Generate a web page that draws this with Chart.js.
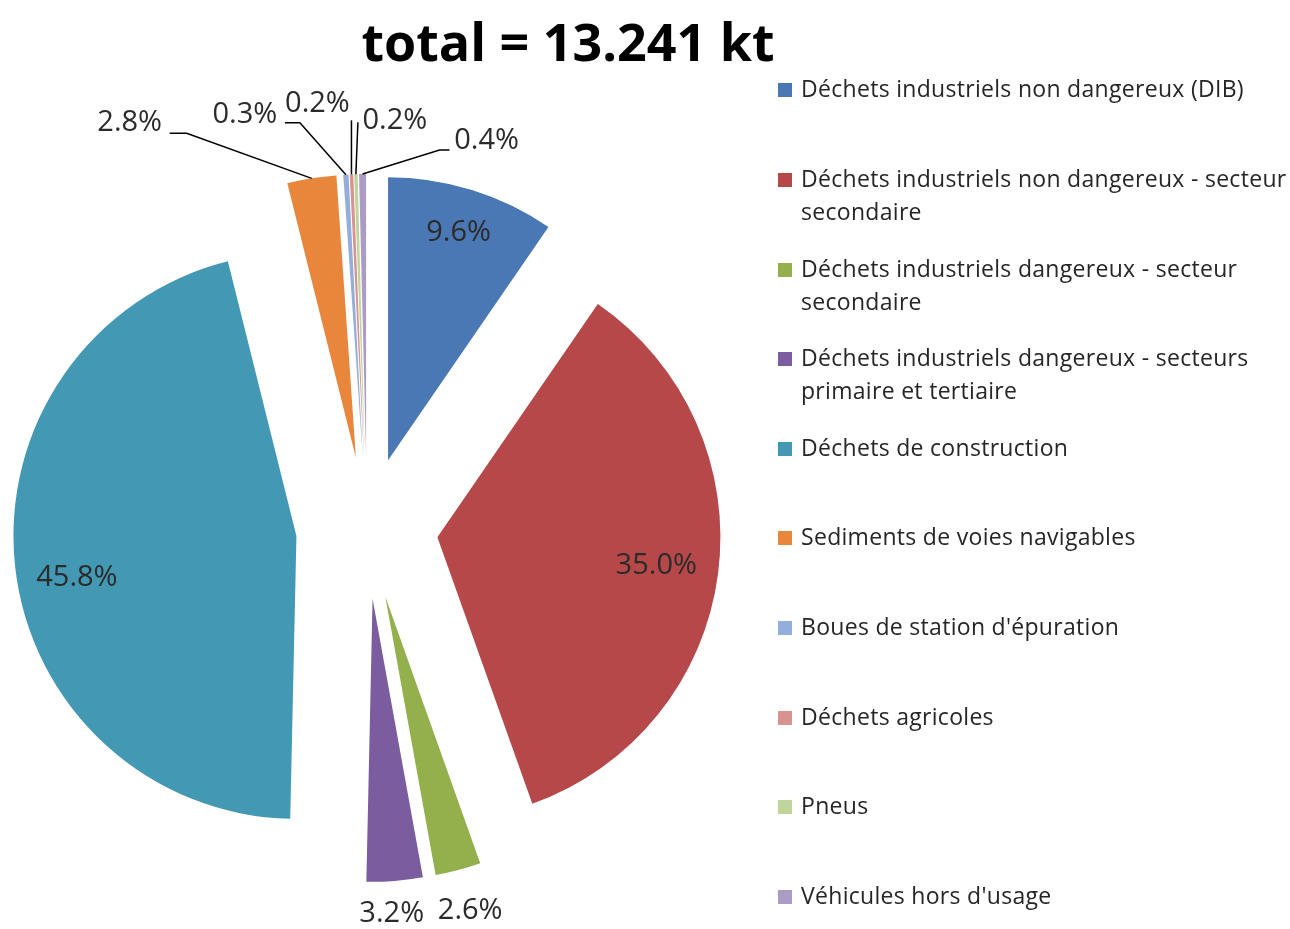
<!DOCTYPE html>
<html>
<head>
<meta charset="utf-8">
<script src="https://cdn.jsdelivr.net/npm/chart.js@4.4.1/dist/chart.umd.min.js"></script>
<style>
  html, body { margin: 0; padding: 0; background: #fff; }
  #page { position: relative; width: 1290px; height: 929px; overflow: hidden; font-family: "Open Sans", sans-serif; }
  #chart { position: absolute; left: 0; top: 0; }
  #title { position: absolute; left: 0; top: 15px; width: 1136px; text-align: center;
           font-weight: 700; font-size: 52px; line-height: 52px; color: #000; }
  #legend .item { position: absolute; left: 778px; font-size: 23px; line-height: 33px;
                  letter-spacing: 0.3px; color: #262626; white-space: nowrap; }
  #legend .box { position: absolute; left: 0; top: 11px; width: 14px; height: 14px; }
  #legend .txt { margin-left: 23px; }
</style>
</head>
<body>
<div id="page">
  <canvas id="chart" width="1290" height="929"></canvas>
  <div id="title"></div>
  <div id="legend"></div>
</div>
<script>
const totalKt = '13.241';

const categories = [
  'Déchets industriels non dangereux (DIB)',
  ['Déchets industriels non dangereux - secteur', 'secondaire'],
  ['Déchets industriels dangereux - secteur', 'secondaire'],
  ['Déchets industriels dangereux - secteurs', 'primaire et tertiaire'],
  'Déchets de construction',
  'Sediments de voies navigables',
  "Boues de station d'épuration",
  'Déchets agricoles',
  'Pneus',
  "Véhicules hors d'usage"
];

// share of the total, in %
const shares = [9.6, 35.0, 2.6, 3.2, 45.8, 2.8, 0.3, 0.2, 0.2, 0.4];

const colors = [
  '#4a78b5', '#b6484a', '#93b04c', '#7a5c9f', '#4399b3',
  '#e8863b', '#94aedb', '#d89391', '#bfd59b', '#ab9cc6'
];

// how far every slice is pulled out of the centre (px)
const EXPLODE = 71;

// the built-in arc offset also grows small slices, so pull them out
// with a plain translation instead and keep every radius the same
class ExplodedArc extends Chart.ArcElement {
  draw(ctx) {
    const mid = (this.startAngle + this.endAngle) / 2;
    ctx.save();
    ctx.translate(Math.cos(mid) * EXPLODE, Math.sin(mid) * EXPLODE);
    super.draw(ctx);
    ctx.restore();
  }
}
ExplodedArc.id = 'explodedArc';

class ExplodedPie extends Chart.PieController {}
ExplodedPie.id = 'explodedPie';
ExplodedPie.defaults = { dataElementType: 'explodedArc' };

Chart.register(ExplodedArc, ExplodedPie);

// where each percentage goes: inside at a fraction of the radius (turned a few degrees),
// or outside (text offset from the slice edge) with an optional leader line
const labelPlacement = [
  { inside: 0.84 },
  { inside: 0.78 },
  { text: [12, 41] },
  { text: [-3, 33] },
  { inside: 0.79, turn: -4.5 },
  { text: [-182, -56], end: [40, 11], elbow: 17 },
  { text: [-101, -60], end: [40, 8], elbow: 15 },
  { text: [-34, -71], end: [34, 17], elbow: 0 },
  { text: [39, -53], end: [-37, 1], elbow: 0 },
  { text: [124, -33], end: [-37, 9], elbow: -10 }
];

const pctLabels = {
  id: 'pctLabels',
  afterDatasetsDraw(chart) {
    const { ctx } = chart;
    const meta = chart.getDatasetMeta(0);
    ctx.save();
    ctx.font = '29px "Open Sans"';
    ctx.fillStyle = '#2b2b2b';
    ctx.strokeStyle = '#000';
    ctx.lineWidth = 1.5;
    ctx.textAlign = 'center';
    ctx.textBaseline = 'middle';
    meta.data.forEach((arc, i) => {
      const { x, y, startAngle, endAngle, outerRadius } =
        arc.getProps(['x', 'y', 'startAngle', 'endAngle', 'outerRadius'], true);
      const mid = (startAngle + endAngle) / 2;
      const cx = x + Math.cos(mid) * EXPLODE;
      const cy = y + Math.sin(mid) * EXPLODE;
      const text = shares[i].toFixed(1) + '%';
      const p = labelPlacement[i];
      if (p.inside) {
        const r = outerRadius * p.inside;
        const a = mid + (p.turn || 0) * Math.PI / 180;
        ctx.fillText(text, cx + Math.cos(a) * r, cy + Math.sin(a) * r);
        return;
      }
      const ox = cx + Math.cos(mid) * outerRadius;
      const oy = cy + Math.sin(mid) * outerRadius;
      const tx = ox + p.text[0];
      const ty = oy + p.text[1];
      if (p.end) {
        const ex = tx + p.end[0];
        const ey = ty + p.end[1];
        ctx.beginPath();
        ctx.moveTo(ox, oy);
        ctx.lineTo(ex + p.elbow, ey);
        ctx.lineTo(ex, ey);
        ctx.stroke();
      }
      ctx.fillText(text, tx, ty);
    });
    ctx.restore();
  }
};

new Chart(document.getElementById('chart'), {
  type: 'explodedPie',
  data: {
    labels: categories,
    datasets: [{
      data: shares,
      backgroundColor: colors,
      borderWidth: 0,
      radius: 283
    }]
  },
  options: {
    responsive: false,
    animation: false,
    layout: { padding: { left: 0, right: 556, top: 127, bottom: 0 } },
    plugins: {
      legend: { display: false },
      title: { display: false },
      tooltip: { enabled: false }
    }
  },
  plugins: [pctLabels]
});

document.getElementById('title').textContent = 'total = ' + totalKt + ' kt';

const legend = document.getElementById('legend');
categories.forEach((label, i) => {
  const item = document.createElement('div');
  item.className = 'item';
  item.style.top = (72.3 + i * 89.6) + 'px';
  const box = document.createElement('span');
  box.className = 'box';
  box.style.background = colors[i];
  const txt = document.createElement('div');
  txt.className = 'txt';
  (Array.isArray(label) ? label : [label]).forEach((line, k) => {
    if (k) txt.appendChild(document.createElement('br'));
    txt.appendChild(document.createTextNode(line));
  });
  item.appendChild(box);
  item.appendChild(txt);
  legend.appendChild(item);
});
</script>
</body>
</html>
